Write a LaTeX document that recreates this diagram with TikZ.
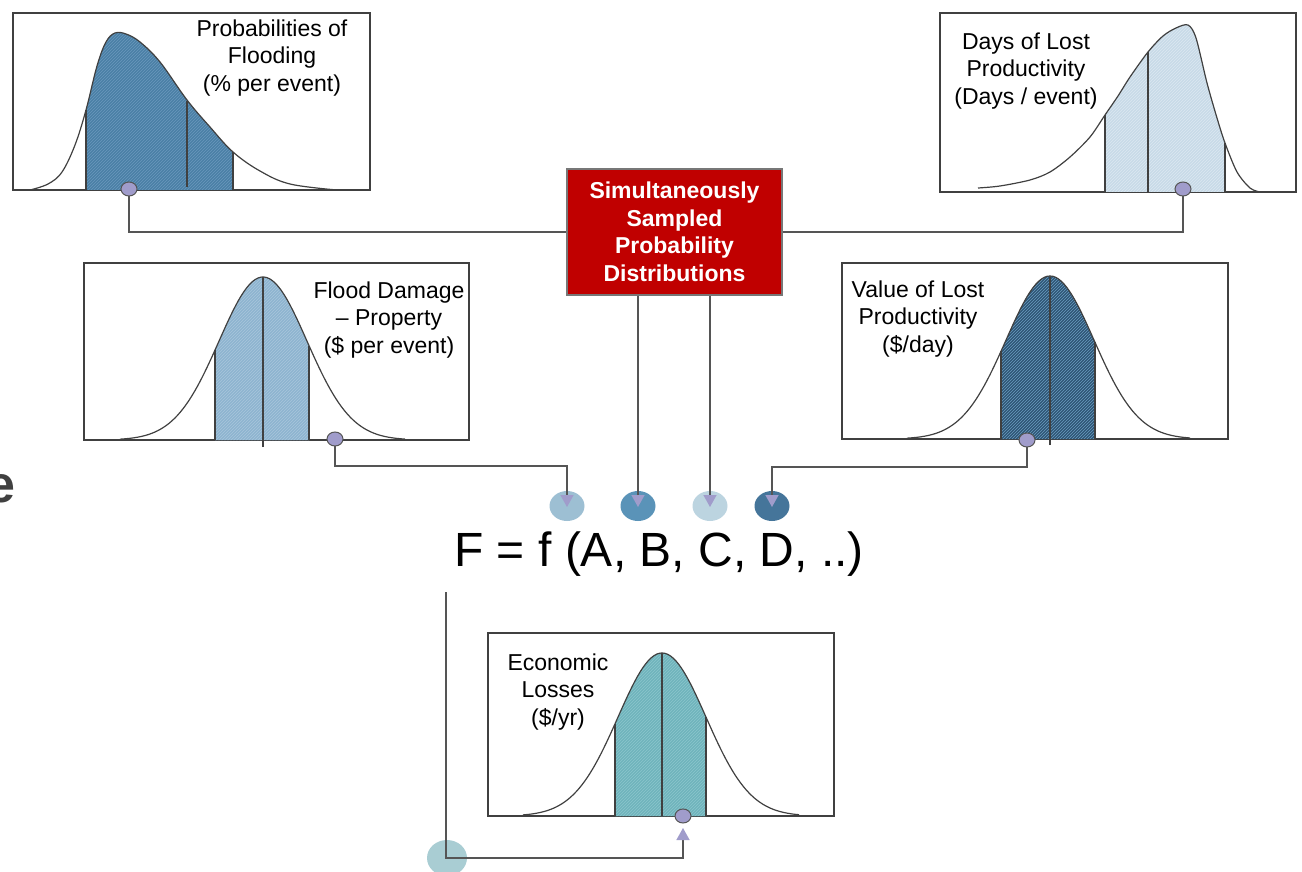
\documentclass[tikz,border=0pt]{standalone}
\usepackage{fontspec}
\setmainfont{Liberation Sans}
\usetikzlibrary{shapes.geometric,arrows.meta,patterns}
\definecolor{boxgray}{HTML}{404040}
\definecolor{linegray}{HTML}{555555}
\definecolor{boxred}{HTML}{C00000}
\definecolor{redborder}{HTML}{777777}
\definecolor{tlfill}{HTML}{4A80A6}
\definecolor{tlhatch}{HTML}{6A98BC}
\definecolor{trfill}{HTML}{C8DAE8}
\definecolor{trhatch}{HTML}{DCE8F1}
\definecolor{mlfill}{HTML}{8DB4D0}
\definecolor{mlhatch}{HTML}{A8C6DC}
\definecolor{mrfill}{HTML}{2E5574}
\definecolor{mrhatch}{HTML}{6A9CC0}
\definecolor{ecfill}{HTML}{6FB4BC}
\definecolor{echatch}{HTML}{8CC6CC}
\definecolor{dotA}{HTML}{9DBFD3}
\definecolor{dotB}{HTML}{5A93B8}
\definecolor{dotC}{HTML}{BCD4E0}
\definecolor{dotD}{HTML}{45759A}
\definecolor{dotE}{HTML}{A9CDD3}
\definecolor{markfill}{HTML}{A09CCB}
\definecolor{tipcol}{HTML}{A09CCB}
\definecolor{egray}{HTML}{404040}
\begin{document}
\begin{tikzpicture}[x=1pt,y=-1pt,
  chartbox/.style={draw=boxgray, line width=1.3pt, inner sep=0pt, outer sep=0pt, anchor=north west},
  distcurve/.style={draw=boxgray, line width=1.2pt},
  divider/.style={draw=boxgray, line width=1.3pt},
  conn/.style={draw=linegray, line width=1.4pt},
  arrowconn/.style={conn, -{Triangle[width=13pt,length=12pt,color=tipcol]}},
  samplemark/.style={ellipse, draw=linegray, fill=markfill, line width=1pt, minimum width=16pt, minimum height=14pt, inner sep=0pt},
  inputdot/.style={ellipse, minimum width=35pt, minimum height=30pt, inner sep=0pt},
  lbl/.style={font=\fontsize{23}{27.3}\selectfont, align=center, inner sep=0pt},
  redbox/.style={fill=boxred, draw=redborder, line width=1.2pt, minimum width=215pt, minimum height=126pt, text=white, font=\bfseries\fontsize{23}{27.5}\selectfont, align=center, inner sep=0pt},
  declare function={gauss(\gx,\gm,\gb)=\gb-163*exp(-0.5*((\gx-\gm)/44)*((\gx-\gm)/44));}
]
\useasboundingbox (0,0) rectangle (1302,872);

% ---------- cut-off letter at left ----------
\node[font=\bfseries\fontsize{52}{60}\selectfont, text=egray, anchor=base east, inner sep=0pt] (cut) at (16,502) {e};

% ---------- top-left chart ----------
\node[chartbox, minimum width=357pt, minimum height=177pt] (tlbox) at (13,13) {};
\begin{scope}
  \clip (30,190) -- plot[smooth,tension=0.6] coordinates {(30,190) (48,184) (62,172) (75,145) (86,110) (97,66) (106,42) (115,33) (126,34) (140,42) (160,62) (187,100) (210,127) (233,152) (260,171) (290,184) (337,190)} -- (337,190) -- cycle;
  \fill[tlfill] (86,190) rectangle (233,20);
  \fill[pattern=north east lines, pattern color=tlhatch] (86,190) rectangle (233,20);
\end{scope}
\draw[distcurve] plot[smooth,tension=0.6] coordinates {(30,190) (48,184) (62,172) (75,145) (86,110) (97,66) (106,42) (115,33) (126,34) (140,42) (160,62) (187,100) (210,127) (233,152) (260,171) (290,184) (337,190)};
\draw[divider] (86,190) -- (86,110);
\draw[divider] (187,187) -- (187,101);
\draw[divider] (233,190) -- (233,152);
\node[lbl] (tllbl) at (272,58) {Probabilities of\\Flooding\\(\% per event)};

% ---------- top-right chart ----------
\node[chartbox, minimum width=356pt, minimum height=179pt] (trbox) at (940,13) {};
\begin{scope}
  \clip (978,192) -- plot[smooth,tension=0.5] coordinates {(978,188) (1000,186) (1030,180) (1050,172) (1070,157) (1090,137) (1105,115) (1118,96) (1130,77) (1148,52) (1163,36) (1176,28) (1188,25) (1196,38) (1207,83) (1217,118) (1225,143) (1237,172) (1250,188) (1260,192)} -- (1260,192) -- cycle;
  \fill[trfill] (1105,192) rectangle (1225,20);
  \fill[pattern=north east lines, pattern color=trhatch] (1105,192) rectangle (1225,20);
\end{scope}
\draw[distcurve] plot[smooth,tension=0.5] coordinates {(978,188) (1000,186) (1030,180) (1050,172) (1070,157) (1090,137) (1105,115) (1118,96) (1130,77) (1148,52) (1163,36) (1176,28) (1188,25) (1196,38) (1207,83) (1217,118) (1225,143) (1237,172) (1250,188) (1260,192)};
\draw[divider] (1105,192) -- (1105,115);
\draw[divider] (1148,192) -- (1148,52);
\draw[divider] (1225,192) -- (1225,143);
\node[lbl] (trlbl) at (1026,71) {Days of Lost\\Productivity\\(Days / event)};

% ---------- middle-left chart ----------
\node[chartbox, minimum width=385pt, minimum height=177pt] (mlbox) at (84,263) {};
\fill[mlfill] (215,440) -- plot[domain=215:309,samples=40] (\x,{gauss(\x,263,440)}) -- (309,440) -- cycle;
\fill[pattern=north east lines, pattern color=mlhatch] (215,440) -- plot[domain=215:309,samples=40] (\x,{gauss(\x,263,440)}) -- (309,440) -- cycle;
\draw[distcurve] plot[domain=120:405,samples=100] (\x,{gauss(\x,263,440)});
\draw[divider] (215,440) -- (215,{gauss(215,263,440)});
\draw[divider] (263,447) -- (263,277);
\draw[divider] (309,440) -- (309,{gauss(309,263,440)});
\node[lbl] (mllbl) at (389,320) {Flood Damage\\– Property\\(\$ per event)};

% ---------- middle-right chart ----------
\node[chartbox, minimum width=386pt, minimum height=176pt] (mrbox) at (842,263) {};
\fill[mrfill] (1001,439) -- plot[domain=1001:1095,samples=40] (\x,{gauss(\x,1050,439)}) -- (1095,439) -- cycle;
\fill[pattern=north east lines, pattern color=mrhatch] (1001,439) -- plot[domain=1001:1095,samples=40] (\x,{gauss(\x,1050,439)}) -- (1095,439) -- cycle;
\draw[distcurve] plot[domain=907:1190,samples=100] (\x,{gauss(\x,1050,439)});
\draw[divider] (1001,439) -- (1001,{gauss(1001,1050,439)});
\draw[divider] (1050,445) -- (1050,277);
\draw[divider] (1095,439) -- (1095,{gauss(1095,1050,439)});
\node[lbl] (mrlbl) at (918,319) {Value of Lost\\Productivity\\(\$/day)};

% ---------- bottom chart ----------
\node[chartbox, minimum width=346pt, minimum height=183pt] (ecbox) at (488,633) {};
\fill[ecfill] (615,816) -- plot[domain=615:706,samples=40] (\x,{gauss(\x,662,816)}) -- (706,816) -- cycle;
\fill[pattern=north east lines, pattern color=echatch] (615,816) -- plot[domain=615:706,samples=40] (\x,{gauss(\x,662,816)}) -- (706,816) -- cycle;
\draw[distcurve] plot[domain=523:799,samples=100] (\x,{gauss(\x,662,816)});
\draw[divider] (615,816) -- (615,{gauss(615,662,816)});
\draw[divider] (662,816) -- (662,653);
\draw[divider] (706,816) -- (706,{gauss(706,662,816)});
\node[lbl] (eclbl) at (558,692) {Economic\\Losses\\(\$/yr)};

% ---------- central box ----------
\node[redbox] (red) at (674.5,232) {Simultaneously\\Sampled\\Probability\\Distributions};

% ---------- input dots and formula ----------
\node[inputdot, fill=dotA] (A) at (567,506) {};
\node[inputdot, fill=dotB] (B) at (638,506) {};
\node[inputdot, fill=dotC] (C) at (710,506) {};
\node[inputdot, fill=dotD] (D) at (772,506) {};
\node[font=\fontsize{48}{56}\selectfont, anchor=base, inner sep=0pt] (formula) at (659,566) {F = f (A, B, C, D, ..)};
\node[ellipse, fill=dotE, minimum width=40pt, minimum height=36pt, inner sep=0pt] (bl) at (447,858) {};

% ---------- sample markers (positions) ----------
\coordinate (s1) at (129,189);
\coordinate (s2) at (1183,189);
\coordinate (s3) at (335,439);
\coordinate (s4) at (1027,440);
\coordinate (s5) at (683,816);
\coordinate (jA) at (567,466);
\coordinate (jD) at (772,467);
\coordinate (fstart) at (446,592);
\coordinate (s5tip) at (683,828);

% ---------- connectors ----------
\draw[conn] (s1) |- (red.west);
\draw[conn] (s2) |- (red.east);
\draw[arrowconn] (s3) |- (jA) -- ([yshift=-1pt]A.center);
\draw[arrowconn] (B |- red.south) -- ([yshift=-1pt]B.center);
\draw[arrowconn] (C |- red.south) -- ([yshift=-1pt]C.center);
\draw[arrowconn] (s4) |- (jD) -- ([yshift=-1pt]D.center);
\draw[arrowconn] (fstart) |- (s5tip |- bl.center) -- (s5tip);

% ---------- marker dots ----------
\node[samplemark] (m1) at (s1) {};
\node[samplemark] (m2) at (s2) {};
\node[samplemark] (m3) at (s3) {};
\node[samplemark] (m4) at (s4) {};
\node[samplemark] (m5) at (s5) {};
\end{tikzpicture}
\end{document}
